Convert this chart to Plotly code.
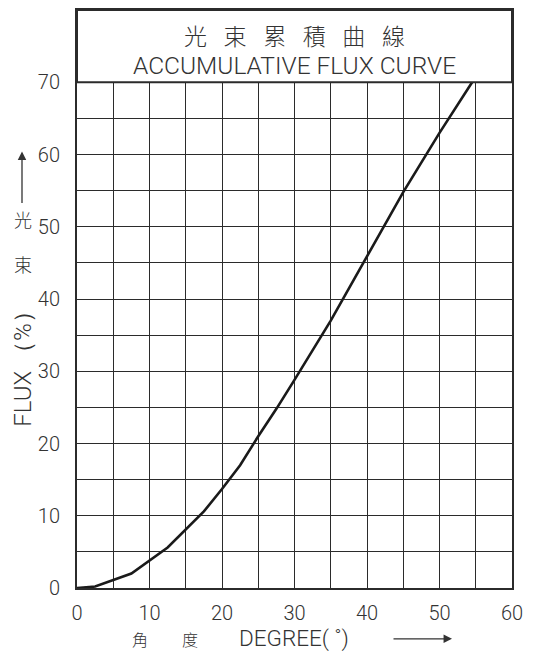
import plotly.graph_objects as go

# Data
degree = [0, 2.5, 7.5, 12.5, 17.5, 20, 22.5, 25, 27.5, 30, 35, 40, 45, 50, 54.5]
flux = [0, 0.2, 2.0, 5.6, 10.6, 13.7, 17.0, 21.0, 24.8, 28.8, 37.0, 45.8, 54.8, 63.0, 70.0]
x_ticks = [0, 10, 20, 30, 40, 50, 60]
y_ticks = [0, 10, 20, 30, 40, 50, 60, 70]
title_cn = ["光", "束", "累", "積", "曲", "線"]
title_en = "ACCUMULATIVE FLUX CURVE"

W, H = 541, 652
L, R, T, B = 77, 29, 8, 64
PW, PH = W - L - R, H - T - B

def px(xp):
    return (xp - L) / PW

def py(yp):
    return (H - B - yp) / PH

TXT = "#333333"
LINE = "#2b2b2b"
FONT = "Roboto, Liberation Sans, Arial, sans-serif"
CJK = "Noto Sans CJK TC"

fig = go.Figure()
fig.add_trace(go.Scatter(x=degree, y=flux, mode="lines",
                         line=dict(color="#1a1a1a", width=2.6),
                         hoverinfo="skip", showlegend=False))

tf = dict(family=FONT, size=20, color=TXT, weight=300)
axis_common = dict(showline=True, linecolor=LINE, linewidth=2, mirror=True,
                   showgrid=True, gridcolor=LINE, gridwidth=1.4,
                   zeroline=False, ticks="", tickfont=tf,
                   minor=dict(dtick=5, showgrid=True, gridcolor=LINE, gridwidth=1.4))

fig.update_xaxes(range=[0, 60], tickvals=x_ticks, ticklabelstandoff=6, **axis_common)
fig.update_yaxes(range=[0, 80], tickvals=y_ticks, ticklabelstandoff=11, **axis_common)

# Title box covering 70..80
fig.add_shape(type="rect", xref="x", yref="y", x0=0, x1=60, y0=70, y1=80,
              fillcolor="white", line=dict(color=LINE, width=2), layer="above")

def txt(text, x, y, family, size, xanchor="center", angle=0, weight=300):
    return dict(text=text, x=px(x), y=py(y), xref="paper", yref="paper",
                xanchor=xanchor, yanchor="middle", textangle=angle,
                showarrow=False, font=dict(family=family, size=size, color=TXT, weight=weight))

ann = []
ann.append(txt("\u2002 ".join(title_cn), L + PW / 2, 33, CJK, 23))
ann.append(txt(title_en, L + PW / 2, 64, FONT, 24.5))

# Y axis label
ann.append(txt("FLUX （%）", 23, 362, FONT, 24, angle=-90))
ann.append(txt("束", 23, 263, CJK, 18))
ann.append(txt("光", 23, 218, CJK, 18))
ann.append(dict(text="", x=px(22), y=py(150), xref="paper", yref="paper",
                showarrow=True, ax=0, ay=53, arrowhead=2, arrowsize=1.3,
                arrowwidth=1.3, arrowcolor=TXT))

# X axis label
ann.append(txt("角", 140, 639, CJK, 16))
ann.append(txt("度", 190, 639, CJK, 16))
ann.append(txt("DEGREE( ˚)", 237, 639, FONT, 22.5, xanchor="left"))
ann.append(dict(text="", x=px(452), y=py(639), xref="paper", yref="paper",
                showarrow=True, ax=-60, ay=0, arrowhead=2, arrowsize=1.3,
                arrowwidth=1.3, arrowcolor=TXT))

fig.update_layout(width=W, height=H, margin=dict(l=L, r=R, t=T, b=B),
                  paper_bgcolor="white", plot_bgcolor="white",
                  annotations=ann, showlegend=False)

fig.write_html("out.html", config={"displayModeBar": False},
               post_script="document.body.style.margin='0';")
